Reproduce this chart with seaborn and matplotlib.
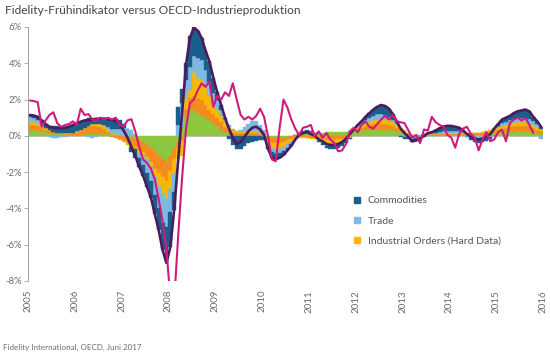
import numpy as np
import pandas as pd
import matplotlib
matplotlib.use("Agg")
import matplotlib.pyplot as plt
import matplotlib.transforms as mtransforms
import seaborn as sns
from matplotlib.lines import Line2D

# ---------------- data (monthly, Jan 2005 - Dec 2015, in %) ----------------
years = ["2005", "2006", "2007", "2008", "2009", "2010", "2011", "2012", "2013", "2014", "2015", "2016"]
legend_labels = ["Commodities", "Trade", "Industrial Orders (Hard Data)"]
title = "Fidelity-Frühindikator versus OECD-Industrieproduktion"
source = "Fidelity International, OECD, Juni 2017"

total = [1.15, 1.12, 1.05, 0.85, 0.65, 0.5, 0.45, 0.42, 0.42, 0.45, 0.5, 0.6,
         0.7, 0.78, 0.85, 0.88, 0.9, 0.93, 0.95, 0.95, 0.92, 0.88, 0.82, 0.65,
         0.3, -0.1, -0.6, -1.1, -1.7, -2.2, -2.8, -3.4, -4.3, -5.2, -6.3, -7.0,
         -6.1, -4.0, -1.3, 1.3, 3.9, 5.4, 5.95, 5.8, 5.4, 4.7, 4.1, 3.2,
         2.4, 1.7, 1.0, 0.4, -0.1, -0.45, -0.35, -0.05, 0.25, 0.45, 0.5, 0.35,
         0.05, -0.7, -1.2, -1.3, -1.2, -1.05, -0.8, -0.55, -0.2, 0.05, 0.15, 0.2,
         0.1, 0.0, -0.2, -0.3, -0.45, -0.5, -0.5, -0.45, -0.35, -0.15, 0.1, 0.35,
         0.6, 0.8, 1.05, 1.25, 1.45, 1.6, 1.7, 1.65, 1.5, 1.2, 0.8, 0.4,
         0.15, -0.05, -0.3, -0.25, -0.15, 0.0, 0.15, 0.2, 0.3, 0.42, 0.52, 0.55,
         0.55, 0.5, 0.45, 0.3, 0.1, -0.05, -0.15, -0.2, -0.15, -0.05, 0.1, 0.4,
         0.65, 0.9, 1.0, 1.1, 1.25, 1.35, 1.4, 1.45, 1.35, 1.05, 0.8, 0.5]

oecd_ip = [1.95, 1.92, 1.85, 0.5, 0.85, 1.15, 1.3, 0.7, 0.5, 0.6, 0.65, 0.8,
           0.6, 1.5, 1.15, 1.2, 0.9, 0.85, 1.0, 0.9, 1.0, 0.9, 1.0, 0.6,
           0.5, 0.85, 0.92, 0.25, -0.6, -1.3, -1.5, -1.8, -2.4, -3.5, -4.7, -6.3,
           -9.0, -9.0, -5.5, -2.3, 0.4, 1.8, 2.0, 2.5, 2.9, 2.7, 3.0, 1.6,
           2.2, 2.0, 2.4, 2.2, 2.9, 2.0, 1.15, 0.9, 1.05, 0.9, 1.1, 1.5,
           1.05, 0.0, -1.3, -1.4, 0.45, 2.0, 1.55, 0.9, 0.4, 0.05, 0.45, 0.5,
           0.6, -0.05, 0.25, -0.1, 0.15, -0.2, -0.4, -0.85, -0.8, -0.45, 0.25, 0.45,
           0.2, 0.6, 0.8, 0.5, 0.4, 0.65, 0.9, 1.1, 0.9, 1.15, 0.8, 0.75,
           0.7, 0.3, -0.1, 0.05, -0.4, 0.35, 0.3, 1.05, 0.75, 0.6, 0.5, 0.05,
           -0.1, -0.65, 0.1, 0.4, 0.5, 0.1, -0.1, -0.8, -0.2, 0.2, -0.3, -0.2,
           0.2, 0.35, -0.3, 0.7, 0.9, 1.0, 0.85, 1.0, 0.6, 0.15, np.nan, np.nan]

green = [0.3, 0.3, 0.28, 0.25, 0.2, 0.15, 0.12, 0.1, 0.08, 0.07, 0.06, 0.06,
         0.06, 0.07, 0.08, 0.09, 0.1, 0.1, 0.1, 0.1, 0.09, 0.08, 0.05, 0.02,
         0.0, -0.05, -0.1, -0.15, -0.25, -0.35, -0.5, -0.65, -0.9, -1.1, -1.3, -1.5,
         -1.1, -0.7, -0.35, 0.5, 1.05, 1.5, 1.4, 1.25, 1.15, 1.0, 0.85, 0.7,
         0.55, 0.35, 0.2, 0.1, 0.05, 0.05, 0.05, 0.05, 0.05, 0.05, 0.05, 0.05,
         0.0, -0.05, -0.1, -0.1, -0.1, -0.1, -0.05, 0.0, 0.05, 0.1, 0.12, 0.15,
         0.15, 0.15, 0.15, 0.18, 0.2, 0.2, 0.2, 0.2, 0.2, 0.22, 0.25, 0.25,
         0.28, 0.3, 0.32, 0.33, 0.35, 0.35, 0.35, 0.35, 0.33, 0.3, 0.25, 0.2,
         0.15, 0.1, 0.05, 0.05, 0.05, 0.05, 0.05, 0.05, 0.05, 0.05, 0.05, 0.05,
         0.05, 0.05, 0.05, 0.05, 0.05, 0.05, 0.05, 0.05, 0.06, 0.08, 0.1, 0.12,
         0.15, 0.18, 0.2, 0.22, 0.24, 0.25, 0.25, 0.25, 0.24, 0.2, 0.15, 0.12]

orange = [0.3, 0.28, 0.25, 0.2, 0.15, 0.1, 0.08, 0.06, 0.05, 0.05, 0.06, 0.08,
          0.12, 0.2, 0.3, 0.38, 0.42, 0.42, 0.38, 0.3, 0.15, -0.05, -0.12, -0.2,
          -0.3, -0.35, -0.4, -0.45, -0.5, -0.55, -0.65, -0.8, -0.9, -0.95, -0.95, -1.0,
          -0.85, -0.6, -0.3, -0.3, 0.45, 0.6, 0.8, 0.85, 0.85, 0.7, 0.6, 0.5,
          0.45, 0.4, 0.3, 0.2, 0.15, 0.1, 0.1, 0.1, 0.1, 0.1, 0.1, 0.05,
          -0.05, -0.2, -0.3, -0.3, -0.3, -0.25, -0.2, -0.15, -0.1, -0.05, -0.05, -0.05,
          -0.1, -0.1, -0.15, -0.2, -0.25, -0.25, -0.25, -0.2, -0.15, -0.1, -0.05, 0.05,
          0.1, 0.15, 0.2, 0.25, 0.28, 0.3, 0.3, 0.3, 0.28, 0.25, 0.2, 0.15,
          0.1, 0.05, 0.0, 0.0, 0.02, 0.03, 0.03, 0.03, 0.03, 0.04, 0.05, 0.05,
          0.05, 0.05, 0.06, 0.07, 0.08, 0.08, 0.08, 0.08, 0.1, 0.12, 0.14, 0.18,
          0.2, 0.22, 0.24, 0.26, 0.28, 0.3, 0.3, 0.3, 0.28, 0.25, 0.2, 0.15]

industrial_orders = [0.2, 0.18, 0.15, 0.12, 0.08, 0.05, 0.03, 0.02, 0.02, 0.02, 0.02, 0.03,
                     0.05, 0.06, 0.08, 0.1, 0.12, 0.14, 0.15, 0.15, 0.14, 0.08, 0.03, -0.03,
                     -0.05, -0.1, -0.1, -0.15, -0.2, -0.2, -0.2, -0.25, -0.45, -0.7, -0.95, -1.0,
                     -1.0, -0.8, -0.6, -0.8, 0.6, 0.45, 1.3, 1.1, 1.1, 1.0, 0.75, 0.55,
                     0.45, 0.35, 0.25, 0.2, 0.15, 0.1, 0.1, 0.1, 0.1, 0.1, 0.1, 0.05,
                     0.0, -0.15, -0.25, -0.3, -0.3, -0.25, -0.2, -0.15, -0.1, -0.05, -0.05, -0.05,
                     -0.05, -0.05, -0.1, -0.15, -0.2, -0.2, -0.2, -0.2, -0.15, -0.1, -0.05, 0.0,
                     0.1, 0.15, 0.18, 0.2, 0.22, 0.25, 0.25, 0.25, 0.25, 0.2, 0.15, 0.1,
                     0.05, 0.0, -0.05, -0.05, -0.02, 0.0, 0.02, 0.02, 0.02, 0.03, 0.04, 0.05,
                     0.05, 0.05, 0.05, 0.05, 0.05, 0.05, 0.04, 0.04, 0.04, 0.05, 0.06, 0.08,
                     0.1, 0.12, 0.14, 0.15, 0.17, 0.19, 0.2, 0.2, 0.2, 0.17, 0.14, 0.1]

trade = [0.25, 0.24, 0.22, 0.13, 0.02, -0.06, -0.1, -0.1, -0.08, -0.05, -0.02, 0.0,
         0.02, 0.02, 0.0, -0.08, -0.1, -0.08, 0.0, 0.05, 0.1, 0.2, 0.3, 0.35,
         0.45, 0.4, 0.3, 0.1, -0.25, -0.5, -0.7, -0.8, -1.0, -1.25, -1.6, -1.5,
         -1.25, -1.0, 0.6, 1.3, 1.0, 1.25, 0.9, 1.1, 1.1, 0.95, 0.75, 0.6,
         0.5, 0.3, 0.2, 0.1, 0.05, 0.0, 0.1, 0.25, 0.4, 0.55, 0.55, 0.45,
         0.3, -0.1, -0.25, -0.3, -0.25, -0.25, -0.2, -0.15, -0.05, 0.0, 0.03, 0.05,
         0.05, 0.0, -0.05, -0.05, -0.1, -0.1, -0.1, -0.1, -0.1, -0.05, 0.0, 0.05,
         0.1, 0.15, 0.2, 0.22, 0.25, 0.28, 0.3, 0.25, 0.2, 0.15, 0.1, 0.0,
         -0.05, -0.05, -0.1, -0.05, -0.05, 0.0, 0.03, 0.05, 0.08, 0.1, 0.12, 0.12,
         0.12, 0.1, 0.09, 0.03, -0.05, -0.1, -0.12, -0.15, -0.15, -0.1, -0.05, 0.05,
         0.12, 0.18, 0.2, 0.22, 0.24, 0.25, 0.25, 0.25, 0.23, 0.18, 0.16, -0.2]

commodities = [0.1, 0.12, 0.15, 0.15, 0.2, 0.26, 0.32, 0.34, 0.35, 0.36, 0.38, 0.43,
               0.45, 0.43, 0.39, 0.39, 0.36, 0.35, 0.32, 0.35, 0.44, 0.57, 0.56, 0.51,
               0.2, 0.0, -0.3, -0.45, -0.5, -0.6, -0.75, -0.9, -1.05, -1.2, -1.5, -2.0,
               -1.9, -1.0, 1.0, 0.8, 0.9, 1.7, 1.6, 1.5, 1.2, 1.05, 1.15, 0.85,
               0.45, 0.3, 0.05, -0.2, -0.5, -0.7, -0.7, -0.55, -0.4, -0.35, -0.3, -0.25,
               -0.2, -0.2, -0.3, -0.3, -0.25, -0.2, -0.15, -0.1, 0.0, 0.05, 0.1, 0.1,
               0.05, 0.0, -0.05, -0.08, -0.1, -0.15, -0.15, -0.15, -0.15, -0.12, -0.05, 0.0,
               0.02, 0.05, 0.15, 0.25, 0.35, 0.42, 0.5, 0.5, 0.44, 0.3, 0.1, -0.05,
               -0.1, -0.15, -0.2, -0.2, -0.15, -0.08, 0.02, 0.05, 0.12, 0.2, 0.26, 0.28,
               0.28, 0.25, 0.2, 0.1, -0.03, -0.13, -0.2, -0.22, -0.2, -0.2, -0.15, -0.03,
               0.08, 0.2, 0.22, 0.25, 0.32, 0.36, 0.4, 0.45, 0.4, 0.25, 0.15, 0.13]

# ---------------- styling ----------------
C_GREEN = "#8dc63f"
C_ORANGE = "#f58a1f"
C_YELLOW = "#f9b700"
C_LBLUE = "#7fb9e2"
C_DBLUE = "#1b5e8c"
C_PURPLE = "#4b1b5e"
C_MAGENTA = "#cf1b7b"
GREY_TXT = "#6b6b6b"

sns.set_style("white")
plt.rcParams["font.family"] = ["Lato", "DejaVu Sans"]

fig = plt.figure(figsize=(5.5, 3.53), dpi=100)
ax = fig.add_axes([28 / 550, 1 - 281 / 353, 515 / 550, 254 / 353])

n = len(total)
idx = np.arange(n)
centers = idx + 0.5

pos_base = np.zeros(n)
neg_base = np.zeros(n)
layers = [(green, C_GREEN), (orange, C_ORANGE), (industrial_orders, C_YELLOW),
          (trade, C_LBLUE), (commodities, C_DBLUE)]
for vals, col in layers:
    v = np.asarray(vals, dtype=float)
    base = np.where(v >= 0, pos_base, neg_base)
    ax.bar(centers, v, width=1.0, bottom=base, color=col, edgecolor=col,
           linewidth=0.3, zorder=2)
    pos_base = pos_base + np.clip(v, 0, None)
    neg_base = neg_base + np.clip(v, None, 0)

df = pd.DataFrame({"pos": centers, "total": total, "oecd": oecd_ip})
sns.lineplot(data=df, x="pos", y="total", color=C_PURPLE, linewidth=1.9, ax=ax, zorder=3)
sns.lineplot(data=df, x="pos", y="oecd", color=C_MAGENTA, linewidth=1.5, ax=ax, zorder=4)

ax.set_xlim(0, n)
ax.set_ylim(-8, 6)
ax.set_xlabel("")
ax.set_ylabel("")

# zero line
ax.axhline(0, color="#c8c8c8", linewidth=0.8, zorder=1)

for s in ["top", "right", "bottom"]:
    ax.spines[s].set_visible(False)
ax.spines["left"].set_color("#a0a0a0")
ax.spines["left"].set_linewidth(0.7)

yt = list(range(-8, 7, 2))
ax.set_yticks(yt)
ax.set_yticklabels([f"{v}%" for v in yt])
ax.tick_params(axis="y", length=3, width=0.6, color="#a0a0a0", labelcolor=GREY_TXT,
               labelsize=6.8, pad=1.5, left=True)

# year labels: vertical text under the plot area at each year boundary
year_pos = np.arange(0, n + 1, 12)
ax.set_xticks(year_pos)
ax.set_xticklabels([])
ax.tick_params(axis="x", length=0)
trans = mtransforms.blended_transform_factory(ax.transData, ax.transAxes)
for xp, lab in zip(year_pos, years):
    ax.text(xp, -0.035, lab, transform=trans, rotation=90, rotation_mode="default",
            ha="center", va="top", fontsize=7, color=GREY_TXT, clip_on=False)

fig.text(5 / 550, 1 - 10 / 353, title, fontsize=8.6, color="#444444", va="center", ha="left")
fig.text(3 / 550, 1 - 347 / 353, source, fontsize=5.8, color=GREY_TXT, va="center", ha="left")

handles = [Line2D([], [], marker="s", linestyle="", markersize=5, color=c)
           for c in (C_DBLUE, C_LBLUE, C_YELLOW)]
fig.legend(handles, legend_labels, loc="upper left", bbox_to_anchor=(349 / 550, 1 - 192 / 353),
           frameon=False, fontsize=7.5, labelspacing=1.05, handlelength=0.8,
           handletextpad=0.6, labelcolor="#555555", borderaxespad=0)

fig.savefig("out.png", dpi=100)
